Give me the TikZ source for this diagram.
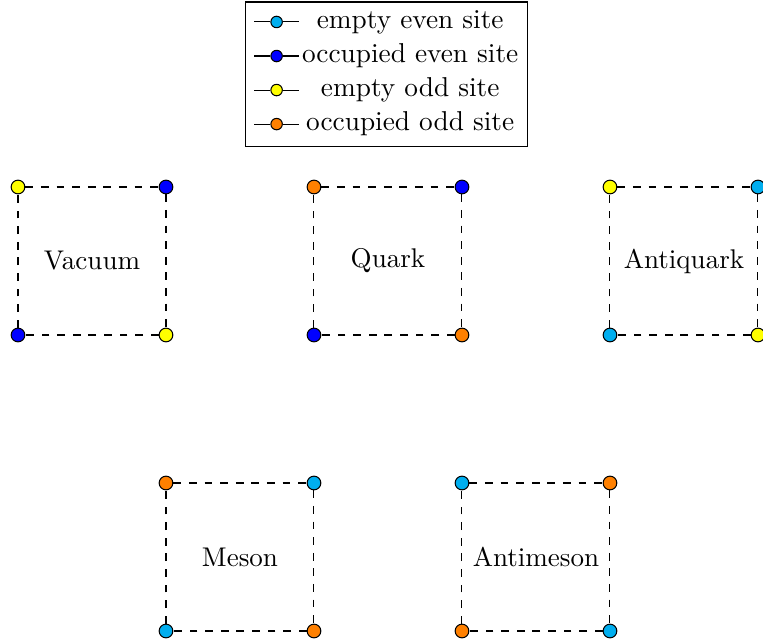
\documentclass[tikz,border=0pt]{standalone}
\definecolor{emptyEven}{RGB}{0,174,239}
\definecolor{occEven}{RGB}{0,0,255}
\definecolor{emptyOdd}{RGB}{255,255,0}
\definecolor{occOdd}{RGB}{255,128,0}
\tikzset{
  site/.style={circle, draw=black, line width=0.4pt, inner sep=0pt, minimum size=0.185cm},
  ee/.style={site, fill=emptyEven},
  oe/.style={site, fill=occEven},
  eo/.style={site, fill=emptyOdd},
  oo/.style={site, fill=occOdd},
  smallsite/.style={minimum size=0.155cm},
  bond/.style={dashed, line width=0.4pt},
  plaqname/.style={inner sep=1pt, font=\fontsize{10.4}{12.5}\selectfont},
  legendframe/.style={draw=black, line width=0.4pt},
  legendline/.style={line width=0.4pt},
  legendtext/.style={inner sep=0pt, anchor=center, font=\fontsize{10.5}{12.5}\selectfont}
}
% one plaquette: name, x, y of lower-left corner, styles of the
% corners (top-left, top-right, bottom-left, bottom-right), caption
\newcommand\plaquette[8]{%
  \node[#4] (#1-tl) at (#2,#3+2) {};
  \node[#5] (#1-tr) at (#2+2,#3+2) {};
  \node[#6] (#1-bl) at (#2,#3) {};
  \node[#7] (#1-br) at (#2+2,#3) {};
  \draw[bond] (#1-tl) -- (#1-tr);
  \draw[bond] (#1-tr) -- (#1-br);
  \draw[bond] (#1-br) -- (#1-bl);
  \draw[bond] (#1-bl) -- (#1-tl);
  \node[plaqname] (#1-text) at (#2+1,#3+1) {#8};
}
% one legend row: name, y, style of the site, text
\newcommand\legendrow[4]{%
  \coordinate (#1-a) at (3.19,#2);
  \coordinate (#1-b) at (3.80,#2);
  \node[#3, smallsite] (#1-mark) at (3.495,#2) {};
  \draw[legendline] (#1-a) -- (#1-mark) -- (#1-b);
  \node[legendtext] (#1-text) at (5.30,#2) {\strut #4};
}
\begin{document}
\begin{tikzpicture}
  \useasboundingbox (-0.243,-0.135) rectangle (10.068,8.527);

  % legend
  \draw[legendframe] (3.08,6.55) rectangle (6.89,8.50);
  \legendrow{lgA}{8.23}{ee}{empty even site}
  \legendrow{lgB}{7.77}{oe}{occupied even site}
  \legendrow{lgC}{7.31}{eo}{empty odd site}
  \legendrow{lgD}{6.85}{oo}{occupied odd site}

  % upper row
  \plaquette{vac}{0}{4}{eo}{oe}{oe}{eo}{Vacuum}
  \plaquette{qk}{4}{4}{oo}{oe}{oe}{oo}{Quark}
  \plaquette{aqk}{8}{4}{eo}{ee}{ee}{eo}{Antiquark}

  % lower row
  \plaquette{mes}{2}{0}{oo}{ee}{ee}{oo}{Meson}
  \plaquette{ames}{6}{0}{ee}{oo}{oo}{ee}{Antimeson}
\end{tikzpicture}
\end{document}
